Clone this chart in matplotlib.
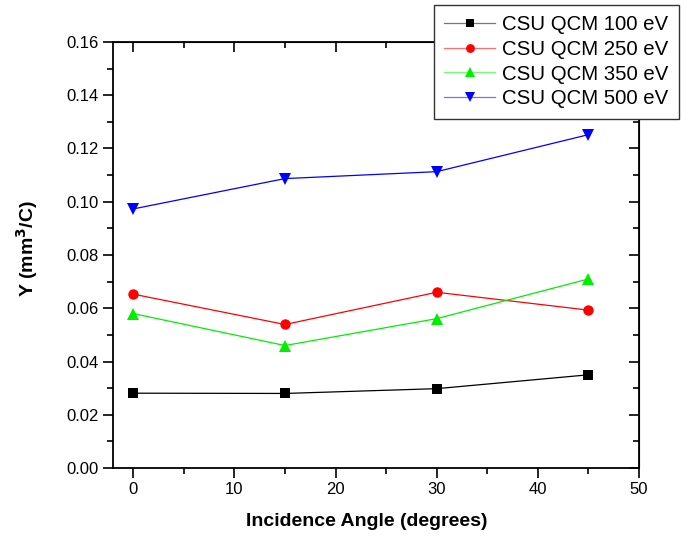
import matplotlib
matplotlib.use("Agg")
import matplotlib.pyplot as plt
from matplotlib.ticker import MultipleLocator, FormatStrFormatter

plt.rcParams['font.family'] = ['Liberation Sans', 'DejaVu Sans']

angles = [0, 15, 30, 45]
y_100 = [0.0281, 0.0280, 0.0298, 0.0350]
y_250 = [0.0653, 0.0539, 0.0660, 0.0593]
y_350 = [0.0580, 0.0460, 0.0561, 0.0710]
y_500 = [0.0973, 0.1087, 0.1113, 0.1252]
labels = ["CSU QCM 100 eV", "CSU QCM 250 eV", "CSU QCM 350 eV", "CSU QCM 500 eV"]

fig = plt.figure(figsize=(6.81, 5.37), dpi=100)
ax = fig.add_axes([113/681, 1-468/537, (639-113)/681, (468-42)/537])

series = [
    (y_100, 'black', 's', 6.5),
    (y_250, 'red', 'o', 7.5),
    (y_350, '#00ee00', '^', 8),
    (y_500, 'blue', 'v', 8),
]
handles = []
for (vals, col, mk, ms), lab in zip(series, labels):
    h, = ax.plot(angles, vals, color=col, marker=mk, markersize=ms,
                 linewidth=0.9, label=lab, markeredgewidth=0)
    handles.append(h)

ax.set_xlim(-2, 50)
ax.set_ylim(0, 0.16)
ax.xaxis.set_major_locator(MultipleLocator(10))
ax.xaxis.set_minor_locator(MultipleLocator(5))
ax.yaxis.set_major_locator(MultipleLocator(0.02))
ax.yaxis.set_minor_locator(MultipleLocator(0.01))
ax.yaxis.set_major_formatter(FormatStrFormatter('%.2f'))

for s in ax.spines.values():
    s.set_linewidth(1.3)

ax.tick_params(which='major', direction='out', length=7, width=1.2,
               labelsize=12, pad=3)
ax.tick_params(which='minor', direction='out', length=4, width=1.2)

# inward ticks on top and right edges
axt = ax.secondary_xaxis('top')
axt.xaxis.set_major_locator(MultipleLocator(10))
axt.xaxis.set_minor_locator(MultipleLocator(5))
axt.tick_params(which='major', direction='in', length=7, width=1.2, labeltop=False)
axt.tick_params(which='minor', direction='in', length=4, width=1.2)
axr = ax.secondary_yaxis('right')
axr.yaxis.set_major_locator(MultipleLocator(0.02))
axr.yaxis.set_minor_locator(MultipleLocator(0.01))
axr.tick_params(which='major', direction='in', length=7, width=1.2, labelright=False)
axr.tick_params(which='minor', direction='in', length=4, width=1.2)

ax.set_xlabel("Incidence Angle (degrees)", fontsize=14, fontweight='bold')
ax.set_ylabel("Y (mm$^\\mathbf{3}$/C)", fontsize=14, fontweight='bold')
ax.xaxis.set_label_coords(0.483, -0.105)
ax.yaxis.set_label_coords(-0.138, 0.514)

leg = fig.legend(handles=handles, loc='upper right',
                 bbox_to_anchor=(679/681, 1-5/537), fontsize=14.7,
                 fancybox=False, framealpha=1, edgecolor='#333333',
                 handlelength=2.5, borderpad=0.5, labelspacing=0.28,
                 handletextpad=0.35, borderaxespad=0, markerscale=0.85)
leg.get_frame().set_linewidth(1.0)
# lighter connector segments in the legend keys, solid markers
light = ['#777777', '#ff7070', '#70ff70', '#7070ff']
for ln, lc, (_, col, _, _) in zip(leg.get_lines(), light, series):
    ln.set_color(lc)
    ln.set_markerfacecolor(col)
    ln.set_markeredgecolor(col)

fig.savefig("out.png", dpi=100)
